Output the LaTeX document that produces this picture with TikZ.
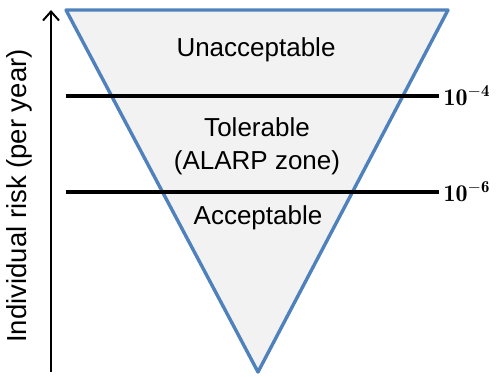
\documentclass[tikz,border=0pt]{standalone}
\usepackage{fontspec}
\setsansfont{Liberation Sans}
\usepackage{tikz}
\usetikzlibrary{positioning, arrows.meta}
\definecolor{edgeblue}{RGB}{79,129,189}
\definecolor{zonegray}{RGB}{242,242,242}

\begin{document}
\begin{tikzpicture}[x=1pt, y=-1pt, line width=3.4pt,
            zone/.style = {font=\sffamily\fontsize{26}{33}\selectfont, align=center, inner sep=0pt},
            level/.style = {font=\fontsize{24}{28}\selectfont, right, inner sep=3pt}]
            \useasboundingbox (0,0) rectangle (500,376);
            % the inverted triangle
            \coordinate (tl) at (66,10);
            \coordinate (tr) at (448,10);
            \coordinate (tip) at (258,372);
            \draw[edgeblue, fill=zonegray, line join=round] (tl) -- (tr) -- (tip) -- cycle;
            % risk limits
            \coordinate (lim1) at (66,96);
            \coordinate (lim2) at (66,192);
            \draw (lim1) -- ++(373,0) node[level] (e4) {$\mathbf{10^{-4}}$};
            \draw (lim2) -- ++(373,0) node[level] (e6) {$\mathbf{10^{-6}}$};
            \node[zone] (unacc) at (256,50) {Unacceptable};
            \node[zone] (toler) at (257,146) {Tolerable\\(ALARP zone)};
            \node[zone] (acc) at (258,218) {Acceptable};
            % vertical axis
            \coordinate (ybot) at (51,372);
            \coordinate (ytop) at (51,10);
            \draw[-{Straight Barb[length=9pt,width=16pt]}, line width=2pt] (ybot) -- (ytop);
            \node[zone, font=\sffamily\fontsize{27.5}{33}\selectfont, rotate=90] (axis) at (19,196) {Individual risk (per year)};
            \end{tikzpicture}
\end{document}
